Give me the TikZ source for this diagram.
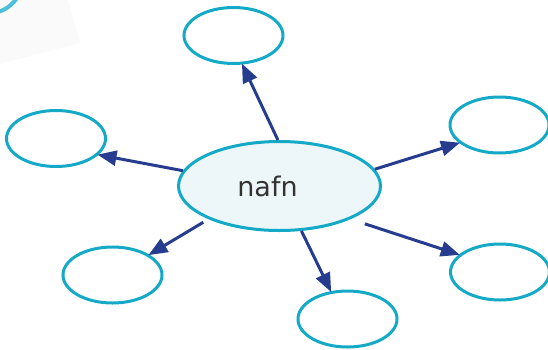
\documentclass[tikz,border=0pt]{standalone}
\usepackage{fontspec}
\setmainfont{DejaVu Sans}
\usetikzlibrary{shapes.geometric,arrows.meta}
\definecolor{teal1}{HTML}{14A9C6}
\definecolor{teal2}{HTML}{4DBFD9}
\definecolor{arrowblue}{HTML}{263D8F}
\definecolor{fillc}{HTML}{EDF6F8}
\definecolor{bgpaper}{HTML}{FAFAFA}
\definecolor{textc}{HTML}{333333}
\tikzset{
  bubble/.style={ellipse, draw=teal1, line width=3pt, inner sep=0pt, minimum width=99pt, minimum height=56pt},
  centre/.style={ellipse, draw=teal1, fill=fillc, line width=3pt, inner sep=0pt, minimum width=202pt, minimum height=89pt, font=\fontsize{27}{30}\selectfont, text=textc},
  link/.style={draw=arrowblue, line width=3pt, -{Triangle[length=19pt,width=15pt]}, shorten >=-1pt}
}
\begin{document}
\begin{tikzpicture}[x=1pt,y=-1pt]
\useasboundingbox (0,0) rectangle (548,349);
\fill[bgpaper] (0,0) -- (68,0) -- (80,43) -- (0,64) -- cycle;
\draw[teal2, line width=4pt] (-2,12) .. controls (6,9.5) and (12,5) .. (17,-2);
\node[centre] (c) at (279.5,186) {\kern-24pt nafn};
\node[bubble] (t) at (233.5,35.5) {};
\node[bubble] (l) at (56,138.5) {};
\node[bubble] (rt) at (499.5,125) {};
\node[bubble] (bl) at (112.5,275) {};
\node[bubble] (b) at (347.5,319) {};
\node[bubble] (br) at (500,272) {};
\draw[link] (c.92) -- (t.287);
\draw[link] (c.171.6) -- (l.339);
\draw[link] (c.10.7) -- (rt.204);
\draw[link, shorten <=6pt] (c.205.4) -- (bl.29);
\draw[link] (c.296.6) -- (b.121.7);
\draw[link, shorten <=15pt] (c.335.5) -- (br.157.6);
\end{tikzpicture}
\end{document}
